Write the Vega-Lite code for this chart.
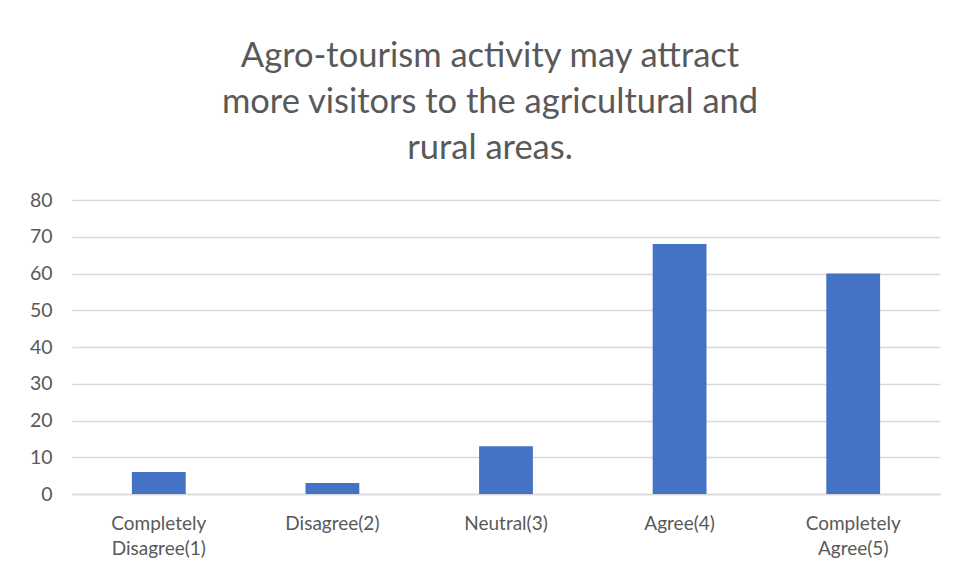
{
  "$schema": "https://vega.github.io/schema/vega-lite/v6.json",
  "width": 868,
  "height": 294,
  "autosize": {"type": "none"},
  "padding": {"left": 72, "top": 200, "right": 18, "bottom": 86},
  "background": "white",
  "title": {
    "text": ["Agro-tourism activity may attract", "more visitors to the agricultural and", "rural areas."],
    "anchor": "middle",
    "dx": -16,
    "offset": 24,
    "font": "Lato",
    "fontSize": 34.5,
    "fontWeight": "normal",
    "color": "#595959",
    "lineHeight": 46
  },
  "data": {
    "values": [
      {"response": "Completely Disagree(1)", "count": 6},
      {"response": "Disagree(2)", "count": 3},
      {"response": "Neutral(3)", "count": 13},
      {"response": "Agree(4)", "count": 68},
      {"response": "Completely Agree(5)", "count": 60}
    ]
  },
  "mark": {"type": "bar", "color": "#4472C4"},
  "encoding": {
    "x": {
      "field": "response",
      "type": "nominal",
      "sort": null,
      "title": null,
      "scale": {"paddingInner": 0.69, "paddingOuter": 0.345},
      "axis": {
        "labelAngle": 0,
        "labelExpr": "split(datum.value, ' ')",
        "labelFont": "Lato",
        "labelFontSize": 19,
        "labelColor": "#595959",
        "labelLineHeight": 25,
        "labelPadding": 20,
        "ticks": false,
        "domainColor": "#d9d9d9",
        "domainWidth": 1.5
      }
    },
    "y": {
      "field": "count",
      "type": "quantitative",
      "title": null,
      "scale": {"domain": [0, 80]},
      "axis": {
        "values": [0, 10, 20, 30, 40, 50, 60, 70, 80],
        "labelFont": "Lato",
        "labelFontSize": 19.5,
        "labelColor": "#595959",
        "labelPadding": 20,
        "ticks": false,
        "domain": false,
        "gridColor": "#d9d9d9",
        "gridWidth": 1.5
      }
    }
  },
  "config": {"view": {"stroke": null}}
}
